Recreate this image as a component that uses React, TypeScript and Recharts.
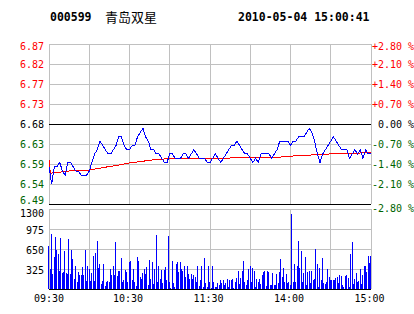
import React from 'react';
import {
  LineChart,
  Line,
  BarChart,
  Bar,
  XAxis,
  YAxis,
  CartesianGrid,
  ReferenceLine,
} from 'recharts';

const stockCode = '000599';
const stockName = '青岛双星';
const stamp = '2010-05-04 15:00:41';
const prevClose = 6.68;

const pctTicks = [2.8, 2.1, 1.4, 0.7, 0, -0.7, -1.4, -2.1, -2.8];
const volTicks = [0, 325, 650, 975, 1300];
const gridMinutes = [0, 30, 60, 90, 120, 150, 180, 210, 240];
const labelMinutes = [0, 60, 120, 180, 240];
const timeLabels = ['09:30', '10:30', '11:30', '14:00', '15:00'];

// last price, one reading every 2 minutes (09:30 .. 11:30, 13:00 .. 15:00)
const prices = [
  6.58, 6.54, 6.58, 6.58, 6.59, 6.57, 6.56, 6.59, 6.59, 6.58,
  6.57, 6.57, 6.56, 6.56, 6.56, 6.57, 6.59, 6.61, 6.62, 6.64,
  6.63, 6.62, 6.61, 6.61, 6.62, 6.63, 6.65, 6.65, 6.63, 6.62,
  6.62, 6.63, 6.63, 6.65, 6.66, 6.67, 6.65, 6.64, 6.62, 6.62,
  6.61, 6.61, 6.6, 6.59, 6.59, 6.61, 6.61, 6.6, 6.6, 6.6,
  6.61, 6.61, 6.6, 6.61, 6.62, 6.61, 6.6, 6.6, 6.6, 6.59,
  6.59, 6.6, 6.61, 6.6, 6.59, 6.6, 6.61, 6.62, 6.63, 6.63,
  6.64, 6.63, 6.62, 6.61, 6.61, 6.6, 6.59, 6.6, 6.59, 6.61,
  6.61, 6.61, 6.61, 6.6, 6.61, 6.62, 6.64, 6.64, 6.64, 6.64,
  6.63, 6.64, 6.64, 6.65, 6.65, 6.65, 6.66, 6.67, 6.66, 6.64,
  6.61, 6.59, 6.61, 6.62, 6.63, 6.64, 6.65, 6.64, 6.63, 6.62,
  6.62, 6.62, 6.6, 6.61, 6.62, 6.61, 6.62, 6.6, 6.62, 6.61,
  6.61,
];

// average price line
const avgMinutes = [0, 1, 4, 10, 20, 30, 40, 50, 60, 70, 80, 90, 100, 110, 120, 130, 140, 150, 160, 170, 180, 190, 200, 210, 220, 230, 240];
const avgPrices = [
  6.595, 6.565, 6.566, 6.568, 6.572, 6.572, 6.578, 6.583, 6.589, 6.593,
  6.597, 6.599, 6.6, 6.6, 6.6, 6.6, 6.601, 6.601, 6.602, 6.602,
  6.605, 6.606, 6.609, 6.61, 6.611, 6.612, 6.613,
];

// volume per minute
const volumes = [
  705, 320, 895, 240, 520, 850, 640, 570, 300, 825,
  260, 270, 620, 260, 240, 810, 240, 640, 490, 170,
  380, 110, 270, 220, 220, 360, 220, 640, 130, 370,
  330, 130, 260, 535, 130, 580, 780, 340, 400, 80,
  130, 400, 50, 120, 130, 120, 320, 220, 370, 230,
  760, 210, 300, 300, 500, 120, 140, 310, 270, 110,
  440, 450, 150, 330, 120, 50, 520, 460, 190, 170,
  260, 320, 240, 360, 60, 470, 160, 440, 80, 320,
  880,
  110, 370, 170, 310, 90, 310, 360, 150, 860,
  120, 20, 450, 100, 40, 400, 440, 270, 440, 330,
  300, 380, 200, 370, 250, 160, 250, 170, 230, 200,
  120, 380, 50, 140, 380, 40, 500,
  90, 40, 370, 120, 20, 380, 110, 40, 40, 100,
  60, 140, 90, 140, 70, 100, 160, 40, 140, 140,
  170, 20, 110, 180, 290, 80, 180, 300, 450,
  120, 60, 140, 320, 380, 120, 340, 300, 40, 160,
  120, 170, 80, 220, 270,
  290, 50, 290, 270, 60, 60, 260, 60, 60, 250,
  100, 280, 480, 190, 340, 110, 250, 90, 120, 70,
  1220,
  120, 400, 120, 370, 780, 340, 610, 120, 260, 520,
  70, 280, 290, 100, 290, 150, 170, 650,
  400, 30, 340, 150, 500, 100, 80, 120, 330, 200,
  140, 140, 150, 140, 180, 190, 90, 230, 210, 70,
  30, 210, 230, 180, 30, 570, 760,
  80, 160, 260, 110, 130, 320, 80, 220, 380, 370,
  280, 540, 430, 530,
];

const priceData = prices.map((p, i) => ({ m: i * 2, price: p, pct: (p / prevClose - 1) * 100 }));
const avgData = avgMinutes.map((m, i) => ({ m, avg: avgPrices[i] }));
const volData = volumes.map((v, i) => ({ m: i, vol: v }));

const lo = prevClose * (1 - 2.8 / 100);
const hi = prevClose * (1 + 2.8 / 100);
const priceTicks = pctTicks.map((p) => prevClose * (1 + p / 100));

const RED = '#ff0000';
const GREEN = '#006400';
const BLUE = '#0000ff';
const GRID = '#c0c0c0';
const MONO = '"DejaVu Sans Mono", "Liberation Mono", monospace';

const colorFor = (pct: number) => (pct > 0 ? RED : pct < 0 ? GREEN : '#000');

const PriceTick = (props: any) => {
  const v = props.payload.value;
  const pct = Math.round((v / prevClose - 1) * 1000) / 10;
  let dy = 3.6;
  if (pct === 2.8) dy += 2.5;
  if (pct === -2.8) dy -= 3.5;
  return (
    <text x={44} y={props.y} dy={dy} textAnchor="end" fontSize={10} fontFamily={MONO} fill={colorFor(pct)}>
      {v.toFixed(2)}
    </text>
  );
};

const PctTick = (props: any) => {
  const v = props.payload.value;
  let dy = 3.6;
  if (v === 2.8) dy += 2.5;
  if (v === -2.8) dy += 4;
  const sign = v > 0 ? '+' : v < 0 ? '-' : ' ';
  return (
    <text x={372} y={props.y} dy={dy} textAnchor="start" fontSize={10} fontFamily={MONO} fill={colorFor(v)} style={{ whiteSpace: 'pre' }}>
      {sign + Math.abs(v).toFixed(2) + ' %'}
    </text>
  );
};

const VolTick = (props: any) => {
  const v = props.payload.value;
  if (v === 0) return <g />;
  const dy = v === 1300 ? 7.5 : 5;
  return (
    <text x={44} y={props.y} dy={dy} textAnchor="end" fontSize={10} fontFamily={MONO} fill="#000">
      {v}
    </text>
  );
};

const TimeTick = (props: any) => {
  const i = labelMinutes.indexOf(props.payload.value);
  if (i < 0) return <g />;
  return (
    <text x={props.x - (i === 0 ? 0 : 1.5)} y={101.5} textAnchor="middle" fontSize={10} fontFamily={MONO} fill="#000">
      {timeLabels[i]}
    </text>
  );
};

const NoTick = () => <g />;

export default function App() {
  return (
    <div style={{ position: 'absolute', left: 0, top: 0, width: 414, height: 314, background: '#fff', overflow: 'hidden' }}>
      <style>{`svg line, svg rect, .recharts-rectangle { shape-rendering: crispEdges; } .recharts-line-curve { shape-rendering: crispEdges; }`}</style>
      <svg width={414} height={30} style={{ position: 'absolute', left: 0, top: 0 }}>
        <text x={50} y={21} fontSize={11.5} fontWeight="bold" fontFamily={MONO} fill="#000">{stockCode}</text>
        <text x={105} y={21.5} fontSize={13} fontFamily={'"Noto Sans CJK SC", sans-serif'} fill="#000">{stockName}</text>
        <text x={238} y={21} fontSize={11.5} fontWeight="bold" fontFamily={MONO} fill="#000">{stamp}</text>
      </svg>

      <div style={{ position: 'absolute', left: 0, top: 0 }}>
        <LineChart width={414} height={216} margin={{ top: 44, right: 0, bottom: 12, left: 0 }}>
          <CartesianGrid stroke={GRID} yAxisId="price" />
          <XAxis dataKey="m" type="number" domain={[0, 240]} ticks={gridMinutes} height={0} tick={NoTick} axisLine={false} tickLine={false} interval={0} />
          <YAxis yAxisId="price" domain={[lo, hi]} ticks={priceTicks} width={49} axisLine={false} tickLine={false} tick={PriceTick} interval={0} />
          <YAxis yAxisId="pct" orientation="right" domain={[-2.8, 2.8]} ticks={pctTicks} width={43} axisLine={false} tickLine={false} tick={PctTick} interval={0} />
          <ReferenceLine yAxisId="price" y={prevClose} stroke="#000" />
          <ReferenceLine yAxisId="price" y={lo} stroke="#000" />
          <Line yAxisId="pct" data={priceData} dataKey="pct" type="linear" stroke="none" dot={false} isAnimationActive={false} />
          <Line yAxisId="price" data={avgData} dataKey="avg" type="linear" stroke={RED} strokeWidth={1} dot={false} isAnimationActive={false} />
          <Line yAxisId="price" data={priceData} dataKey="price" type="linear" stroke={BLUE} strokeWidth={1} dot={false} isAnimationActive={false} />
        </LineChart>
      </div>

      <div style={{ position: 'absolute', left: 0, top: 200 }}>
        <BarChart width={414} height={114} data={volData} margin={{ top: 9, right: 43, bottom: 0, left: 0 }}>
          <CartesianGrid stroke={GRID} />
          <XAxis dataKey="m" type="number" domain={[0, 240]} ticks={gridMinutes} height={25} axisLine={{ stroke: '#000' }} tickLine={false} tick={TimeTick} interval={0} />
          <YAxis domain={[0, 1300]} ticks={volTicks} width={49} axisLine={false} tickLine={false} tick={VolTick} interval={0} />
          <Bar dataKey="vol" fill={BLUE} barSize={1} isAnimationActive={false} />
        </BarChart>
      </div>
    </div>
  );
}
